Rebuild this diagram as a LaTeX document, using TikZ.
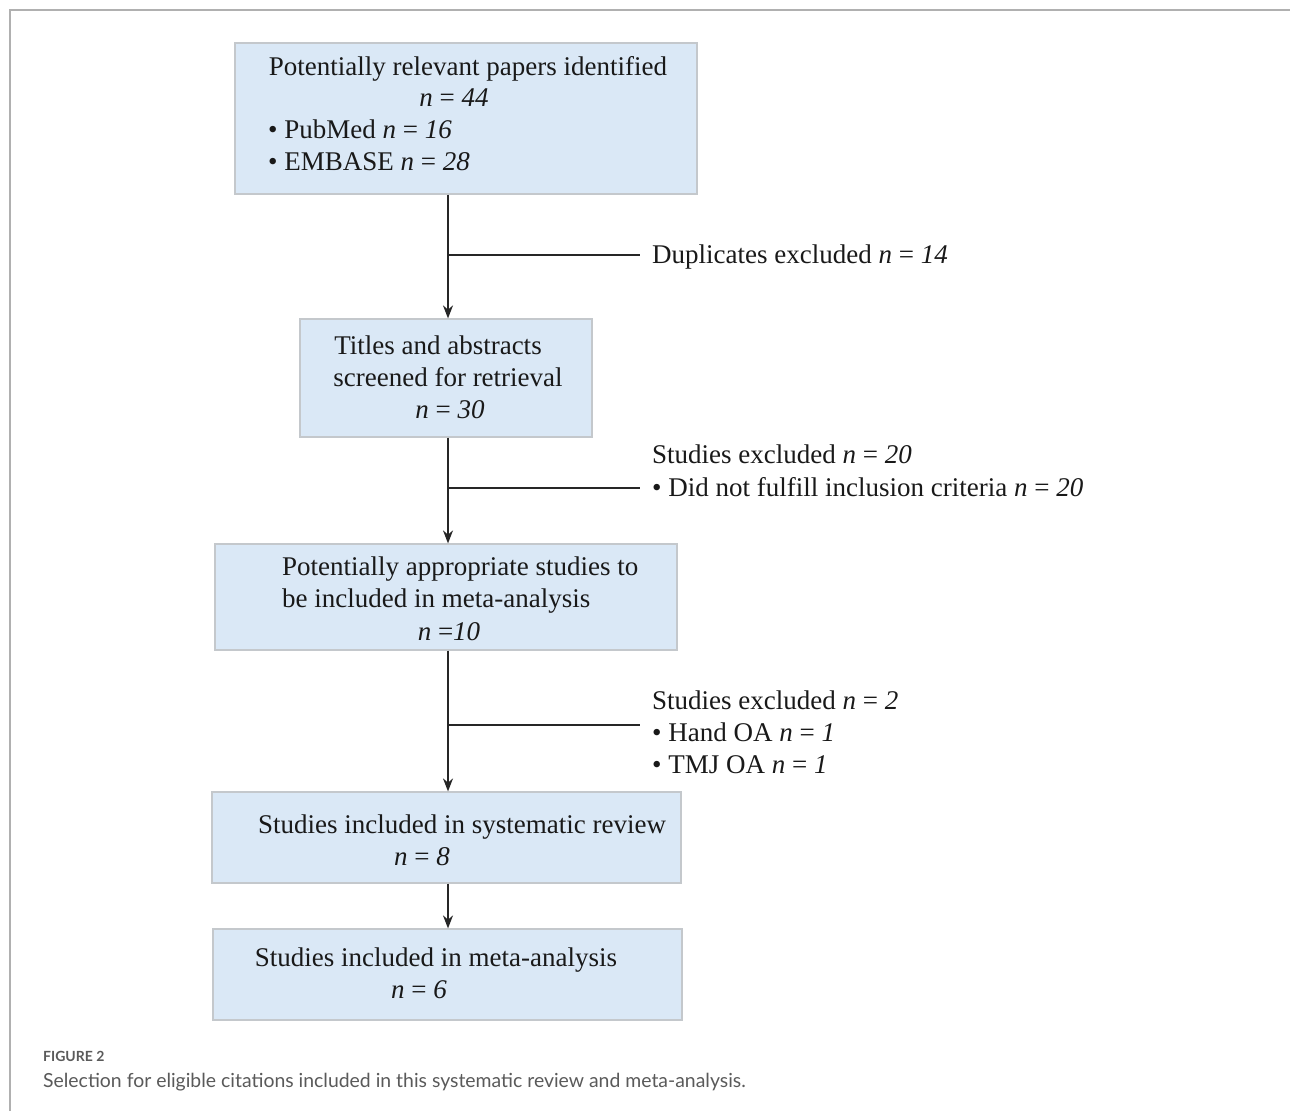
\documentclass[tikz,border=0pt]{standalone}
\usepackage{fontspec}
\setmainfont{Liberation Serif}
\newfontfamily\capfont{Lato}
\usetikzlibrary{arrows.meta}
\definecolor{boxfill}{HTML}{DAE8F6}
\definecolor{boxline}{HTML}{C4C8CC}
\definecolor{frameg}{HTML}{B0B0B0}
\definecolor{capg}{HTML}{5A5A5A}
\tikzset{
  box/.style={draw=boxline, line width=1.2pt, fill=boxfill, inner sep=0pt},
  txt/.style={font=\fontsize{27}{32}\selectfont, inner sep=0pt, text=black!90},
  conn/.style={line width=1.5pt, black!85},
  arr/.style={conn, -{Stealth[length=13pt,width=10pt]}},
}
\newcommand{\nn}[1]{\textit{n} = \textit{#1}}
\begin{document}
\begin{tikzpicture}[x=1pt,y=-1pt]
\useasboundingbox (0,0) rectangle (1290,1111);
\fill[white] (0,0) rectangle (1290,1111);
% frame
\draw[frameg, line width=1.8pt] (10,1111) -- (10,10) -- (1290,10);

% boxes
\node[box, minimum width=462pt, minimum height=151pt] (b1) at (466,118.5) {};
\node[box, minimum width=292pt, minimum height=118pt] (b2) at (446,378) {};
\node[box, minimum width=462pt, minimum height=106pt] (b3) at (446,597) {};
\node[box, minimum width=469pt, minimum height=91pt] (b4) at (446.5,837.5) {};
\node[box, minimum width=469pt, minimum height=91pt] (b5) at (447.5,974.5) {};

% box texts
\node[txt, anchor=base] (t1a) at (468,75) {Potentially relevant papers identified};
\node[txt, anchor=base] (t1b) at (454,106) {\nn{44}};
\node[txt, anchor=base west] (t1c) at (268,138) {• PubMed \nn{16}};
\node[txt, anchor=base west] (t1d) at (268,170) {• EMBASE \nn{28}};

\node[txt, anchor=base] (t2a) at (438,354) {Titles and abstracts};
\node[txt, anchor=base] (t2b) at (448,386) {screened for retrieval};
\node[txt, anchor=base] (t2c) at (450,418) {\nn{30}};

\node[txt, anchor=base west] (t3a) at (282,575) {Potentially appropriate studies to};
\node[txt, anchor=base west] (t3b) at (282,607) {be included in meta-analysis};
\node[txt, anchor=base] (t3c) at (449,640) {\textit{n} =\textit{10}};

\node[txt, anchor=base] (t4a) at (462,833) {Studies included in systematic review};
\node[txt, anchor=base] (t4b) at (422,865) {\nn{8}};

\node[txt, anchor=base] (t5a) at (436,966) {Studies included in meta-analysis};
\node[txt, anchor=base] (t5b) at (419,998) {\nn{6}};

% side texts
\node[txt, anchor=base west] (s1) at (652,263) {Duplicates excluded \nn{14}};
\node[txt, anchor=base west] (s2a) at (652,463) {Studies excluded \nn{20}};
\node[txt, anchor=base west] (s2b) at (652,496) {• Did not fulfill inclusion criteria \nn{20}};
\node[txt, anchor=base west] (s3a) at (652,709) {Studies excluded \nn{2}};
\node[txt, anchor=base west] (s3b) at (652,741) {• Hand OA \nn{1}};
\node[txt, anchor=base west] (s3c) at (652,773) {• TMJ OA \nn{1}};

% connectors
\coordinate (ax) at (448,0);
\coordinate (j1) at (448,255);  \coordinate (e1) at (640,255);
\coordinate (j2) at (448,488);  \coordinate (e2) at (640,488);
\coordinate (j3) at (448,725);  \coordinate (e3) at (640,725);
\draw[arr] (b1.south -| ax) -- (b2.north -| ax);
\draw[arr] (b2.south -| ax) -- (b3.north -| ax);
\draw[arr] (b3.south -| ax) -- (b4.north -| ax);
\draw[arr] (b4.south -| ax) -- (b5.north -| ax);
\draw[conn] (j1) -- (e1);
\draw[conn] (j2) -- (e2);
\draw[conn] (j3) -- (e3);

% caption
\node[anchor=base west, inner sep=0pt, text=capg, font=\capfont\bfseries\fontsize{14}{16}\selectfont] (cap1) at (43,1061) {FIGURE 2};
\node[anchor=base west, inner sep=0pt, text=capg, font=\capfont\fontsize{19.4}{22}\selectfont] (cap2) at (43,1087) {Selection for eligible citations included in this systematic review and meta-analysis.};
\end{tikzpicture}
\end{document}
